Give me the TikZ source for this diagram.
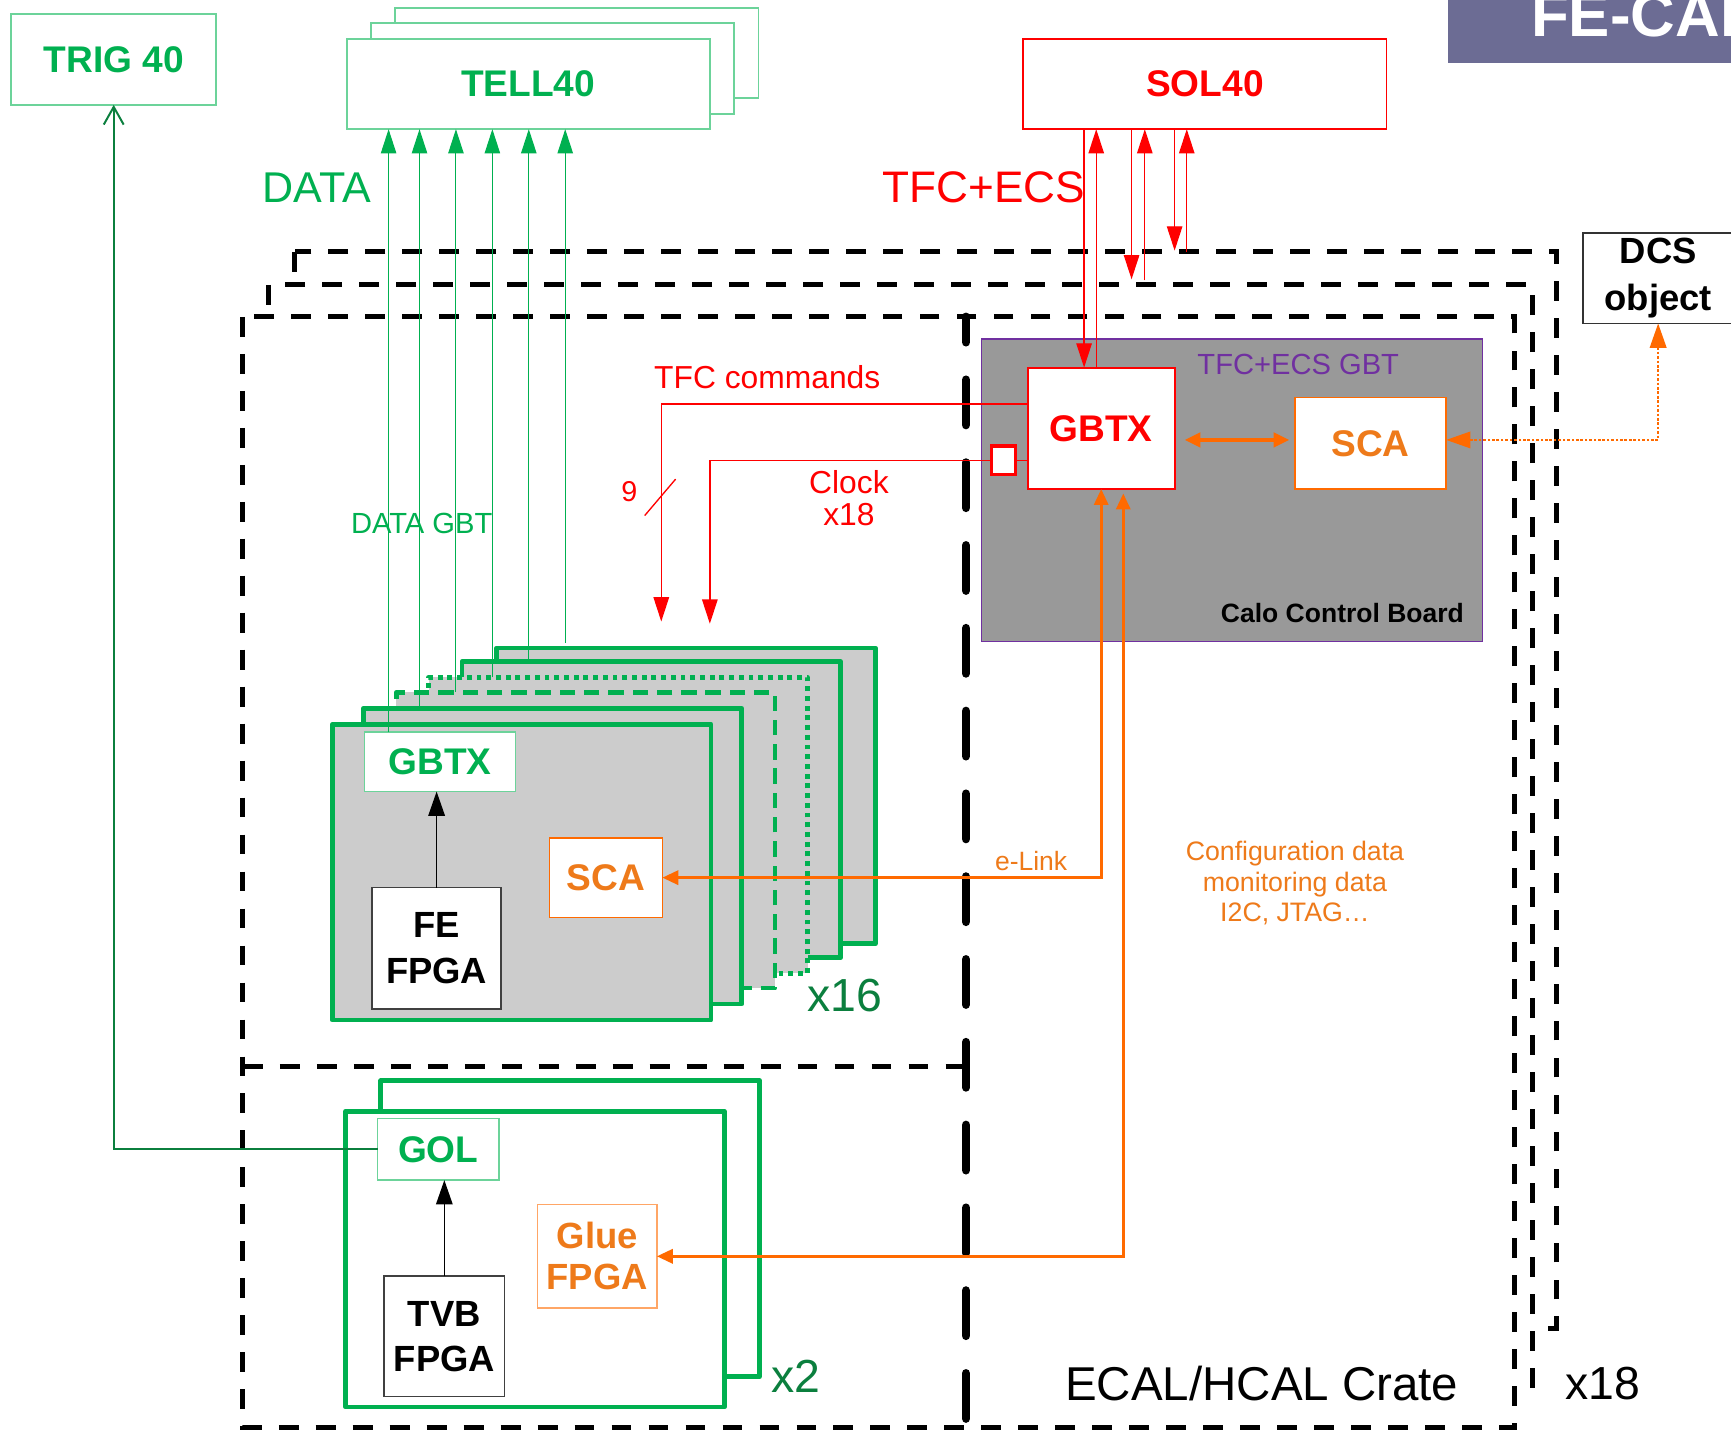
\documentclass[tikz,border=0pt]{standalone}
\usepackage{fontspec}
\setmainfont{Liberation Sans}
\usetikzlibrary{arrows.meta,calc}
\definecolor{grn}{HTML}{00B050}
\definecolor{lgrn}{HTML}{6CD39A}
\definecolor{dgrn}{HTML}{0B7F3E}
\definecolor{orl}{HTML}{FF6A00}
\definecolor{ort}{HTML}{EE7A1A}
\definecolor{purp}{HTML}{7030A0}
\definecolor{ccbg}{HTML}{999999}
\definecolor{bdg}{HTML}{CCCCCC}
\definecolor{bann}{HTML}{6C6C94}
\definecolor{rd}{HTML}{FF0000}
\tikzset{
  tipbig/.tip={Triangle[length=11pt,width=7pt]},
  tipsm/.tip={Triangle[length=7.2pt,width=6.4pt]},
  tipdcs/.tip={Triangle[length=11pt,width=7.5pt]},
  tipopen/.tip={Straight Barb[length=8pt,width=9pt]},
  tbold/.style={font=\fontsize{16.8}{21}\selectfont\bfseries},
  unitbox/.style={draw=lgrn, line width=0.8pt, fill=white, minimum width=164.5pt, minimum height=41pt},
  board/.style={draw=grn, line width=2.2pt, line join=round, fill=bdg, minimum width=171.5pt, minimum height=134pt},
  crate/.style={draw=black, line width=2.3pt, dash pattern=on 9pt off 7.75pt},
  thickdash/.style={draw=black, line width=3.9pt, line cap=round, dash pattern=on 20.5pt off 17pt, dash phase=9pt},
  gline/.style={draw=grn, line width=0.5pt},
  rline/.style={draw=rd, line width=0.6pt},
  oline/.style={draw=orl, line width=1.3pt},
  chip/.style={fill=white, line width=0.7pt, align=center},
}
\begin{document}
\begin{tikzpicture}[x=0.5pt,y=-0.5pt, every node/.style={inner sep=0pt,outer sep=0pt}]
\useasboundingbox (0,0) rectangle (1568,1296);
\begin{scope}
\clip (0,0) rectangle (1568,1296);
\fill[white] (0,0) rectangle (1568,1296);
% banner
\node[fill=bann, minimum width=130pt, minimum height=28.5pt, anchor=north west] (banner) at (1312,0) {};
\node[anchor=base west, text=white, font=\fontsize{28}{30}\selectfont\bfseries] (bannertxt) at (1387,33) {FE-CAL};
% top boxes
\node[unitbox, minimum width=93pt, text=grn, tbold] (trig) at (103,54) {TRIG 40};
\node[unitbox] (tellC) at (522.5,48) {};
\node[unitbox] (tellB) at (500.5,62) {};
\node[unitbox, text=grn, tbold] (tellA) at (478.5,76) {TELL40};
\node[unitbox, draw=rd, text=rd, tbold] (sol) at (1091.5,76) {SOL40};
\node[text=grn, font=\fontsize{19.5}{22}\selectfont] (datalbl) at (287,170) {DATA};
\node[text=rd, font=\fontsize{20}{22}\selectfont] (tfcecs) at (891,170) {TFC+ECS};
% crates
\path[crate, fill=white] (267,228) rectangle (1410,1203);
\path[crate, fill=white] (243,258) rectangle (1388,1257);
\path[crate, fill=white] (220,287) rectangle (1372,1293);
\draw[crate] (220,966) -- (875,966);
\draw[thickdash] (875,287) -- (875,1293);
% DCS
\node[draw=black!80, fill=white, line width=0.7pt, minimum width=68pt, minimum height=41pt, align=center, font=\fontsize{16.5}{21}\selectfont\bfseries] (dcs) at (1502,252) {DCS\\object};
% Calo control board
\node[draw=purp, line width=0.6pt, fill=ccbg, minimum width=227pt, minimum height=137pt] (ccb) at (1116,444) {};
\node[text=purp, font=\fontsize{13.2}{16}\selectfont] (ccbtitle) at (1176,330) {TFC+ECS GBT};
\node[font=\fontsize{12}{14}\selectfont\bfseries] (ccblabel) at (1216,555) {Calo Control Board};
\node[chip, draw=rd, line width=0.8pt, minimum width=66.5pt, minimum height=55pt, text=rd, tbold] (gbtxA) at (997.5,388) {GBTX};
\node[chip, draw=orl, line width=0.8pt, minimum width=68.5pt, minimum height=41.5pt, text=ort, tbold] (scaA) at (1241.5,401.5) {SCA};
\node[draw=rd, fill=white, line width=1.5pt, minimum width=11pt, minimum height=13pt] (sq) at (909,417) {};
% FE boards
\node[board] (bd1) at (621.5,721) {};
\node[board] (bd2) at (590,733.5) {};
\node[board, dash pattern=on 2.2pt off 2.2pt] (bd3) at (560,747.5) {};
\node[board, dash pattern=on 7pt off 4pt] (bd4) at (530.5,761) {};
\node[board] (bd5) at (500.5,775.5) {};
\node[board] (bd6) at (472.5,790) {};
\node[chip, draw=lgrn, minimum width=68.5pt, minimum height=27pt, text=grn, tbold] (gbtxF) at (398.5,690) {GBTX};
\node[chip, draw=black!75, minimum width=58.5pt, minimum height=55pt, font=\fontsize{16.5}{21}\selectfont\bfseries] (fefpga) at (395.5,859) {FE\\FPGA};
\node[chip, draw=orl, line width=0.6pt, minimum width=51pt, minimum height=36pt, text=ort, tbold] (scaF) at (549,795) {SCA};
\node[text=dgrn, font=\fontsize{21}{24}\selectfont] (x16) at (765,902) {x16};
% trigger boards
\node[board, fill=white] (tb2) at (516.5,1113) {};
\node[board, fill=white] (tb1) at (484.5,1140.5) {};
\node[chip, draw=lgrn, minimum width=55pt, minimum height=28pt, text=grn, tbold] (gol) at (397,1041) {GOL};
\node[chip, draw=black!75, minimum width=54.5pt, minimum height=54.5pt, font=\fontsize{16.5}{20.5}\selectfont\bfseries] (tvb) at (402.5,1210.5) {TVB\\FPGA};
\node[chip, draw=orl!60, minimum width=54pt, minimum height=47pt, text=ort, font=\fontsize{16.5}{18.5}\selectfont\bfseries] (glue) at (541,1138) {Glue\\FPGA};
\node[text=dgrn, font=\fontsize{21}{24}\selectfont] (x2) at (721,1247) {x2};
% labels
\node[text=grn, font=\fontsize{13.2}{16}\selectfont] (datagbt) at (382,474) {DATA GBT};
\node[text=rd, font=\fontsize{14.4}{17}\selectfont] (tfccmd) at (695,342) {TFC commands};
\node[text=rd, font=\fontsize{13}{16}\selectfont] (nine) at (570,445) {9};
\node[text=rd, align=center, font=\fontsize{14.4}{14.5}\selectfont] (clock) at (769,451) {Clock\\x18};
\node[text=ort, font=\fontsize{12}{14}\selectfont] (elink) at (934,780) {e-Link};
\node[text=ort, align=center, font=\fontsize{12.1}{13.75}\selectfont] (config) at (1173,800) {Configuration data\\monitoring data\\I2C, JTAG\dots};
\node[font=\fontsize{21.5}{24}\selectfont] (cratelbl) at (1143,1253) {ECAL/HCAL Crate};
\node[font=\fontsize{21}{24}\selectfont] (x18) at (1452,1253) {x18};
% green data links
\coordinate (d1) at ($(gbtxF.north west)+(22,0)$);
\coordinate (d2) at ($(bd5.north west)+(51,0)$);
\coordinate (d3) at ($(bd4.north west)+(54,0)$);
\coordinate (d4) at ($(bd3.north west)+(57.5,0)$);
\coordinate (d5) at ($(bd2.north west)+(60.5,0)$);
\coordinate (d6) at ($(bd1.north west)+(62,-5)$);
\foreach \c in {d1,d2,d3,d4,d5,d6} \draw[gline,-tipbig] (\c) -- (\c |- tellA.south);
% trigger link
\draw[draw=dgrn, line width=0.9pt, -tipopen] (gol.west) -| (trig.south);
% local arrows
\draw[line width=0.6pt, -{Triangle[length=11pt,width=7.5pt]}] (fefpga.north) -- (fefpga.north |- gbtxF.south);
\draw[line width=0.6pt, -{Triangle[length=11pt,width=7.5pt]}] (tvb.north) -- (tvb.north |- gol.south);
% SOL40 links
\draw[rline,-tipbig] ($(sol.south west)+(55,0)$) -- ($(gbtxA.north west)+(51,0)$);
\draw[rline,-tipbig] ($(gbtxA.north west)+(62,0)$) -- ($(sol.south west)+(66,0)$);
\coordinate (r2) at (1025,253);
\coordinate (r3) at (1037,254);
\coordinate (r4) at (1064,227);
\coordinate (r5) at (1075,228);
\draw[rline,-tipbig] (sol.south -| r2) -- (r2);
\draw[rline,-tipbig] (r3) -- (sol.south -| r3);
\draw[rline,-tipbig] (sol.south -| r4) -- (r4);
\draw[rline,-tipbig] (r5) -- (sol.south -| r5);
% TFC commands and clock
\coordinate (tfcs) at ($(gbtxA.north west)!0.3!(gbtxA.south west)$);
\coordinate (tfce) at (599,563);
\draw[rline,-tipbig] (tfcs) -| (tfce);
\draw[rline] (584,467) -- (612,434);
\coordinate (clke) at (643,565);
\draw[rline,-tipbig] (sq.west) -| (clke);
\draw[rline] (sq.east) -- (sq.east -| gbtxA.west);
% orange links
\draw[oline, tipsm-tipsm] (gbtxA.south) |- (scaF.east);
\draw[oline, tipsm-tipsm, shorten <=2pt] ($(gbtxA.south)+(20,0)$) |- (glue.east);
\coordinate (scaw) at ($(scaA.west)+(0,-3)$);
\draw[draw=orl, line width=2pt, tipsm-tipsm, shorten <=4.5pt, shorten >=2.5pt] (gbtxA.east |- scaw) -- (scaw);
\draw[draw=orl, line width=0.8pt, dash pattern=on 1.2pt off 0.8pt, {tipdcs[fill=orl]}-{tipdcs[fill=orl]}] (dcs.south) |- ($(scaA.east)+(0,-3)$);
\end{scope}
\end{tikzpicture}
\end{document}
